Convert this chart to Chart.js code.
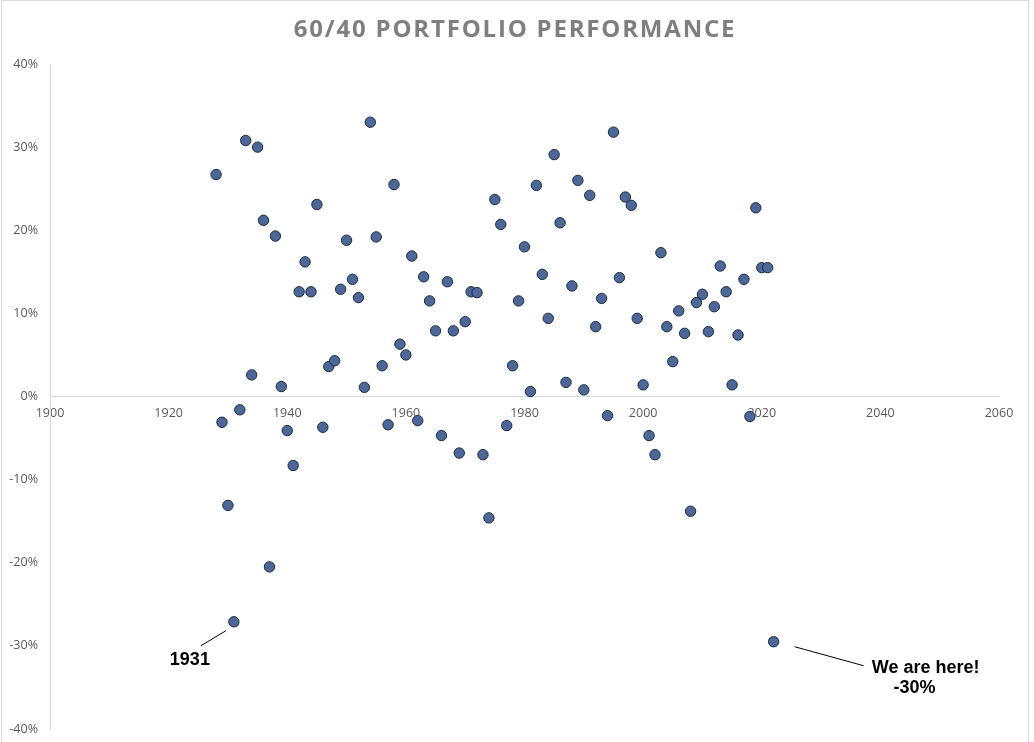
<!DOCTYPE html>
<html>
<head>
<meta charset="utf-8">
<title>60/40 Portfolio Performance</title>
<script src="https://cdn.jsdelivr.net/npm/chart.js@4.4.1/dist/chart.umd.min.js"></script>
<style>
  html, body { margin: 0; padding: 0; background: #fff; }
  #wrapper { width: 1034px; height: 742px; position: relative; }
</style>
</head>
<body>
<div id="wrapper"><canvas id="sc-portfolio"></canvas></div>
<script>
// yearly returns of a 60/40 portfolio, in percent
const years = [
  1928, 1929, 1930, 1931, 1932, 1933, 1934, 1935, 1936, 1937,
  1938, 1939, 1940, 1941, 1942, 1943, 1944, 1945, 1946, 1947,
  1948, 1949, 1950, 1951, 1952, 1953, 1954, 1955, 1956, 1957,
  1958, 1959, 1960, 1961, 1962, 1963, 1964, 1965, 1966, 1967,
  1968, 1969, 1970, 1971, 1972, 1973, 1974, 1975, 1976, 1977,
  1978, 1979, 1980, 1981, 1982, 1983, 1984, 1985, 1986, 1987,
  1988, 1989, 1990, 1991, 1992, 1993, 1994, 1995, 1996, 1997,
  1998, 1999, 2000, 2001, 2002, 2003, 2004, 2005, 2006, 2007,
  2008, 2009, 2010, 2011, 2012, 2013, 2014, 2015, 2016, 2017,
  2018, 2019, 2020, 2021, 2022
];
const returns = [
  26.7, -3.1, -13.1, -27.1, -1.6, 30.8, 2.6, 30.0, 21.2, -20.5,
  19.3, 1.2, -4.1, -8.3, 12.6, 16.2, 12.6, 23.1, -3.7, 3.6,
  4.3, 12.9, 18.8, 14.1, 11.9, 1.1, 33.0, 19.2, 3.7, -3.4,
  25.5, 6.3, 5.0, 16.9, -2.9, 14.4, 11.5, 7.9, -4.7, 13.8,
  7.9, -6.8, 9.0, 12.6, 12.5, -7.0, -14.6, 23.7, 20.7, -3.5,
  3.7, 11.5, 18.0, 0.6, 25.4, 14.7, 9.4, 29.1, 20.9, 1.7,
  13.3, 26.0, 0.8, 24.2, 8.4, 11.8, -2.3, 31.8, 14.3, 24.0,
  23.0, 9.4, 1.4, -4.7, -7.0, 17.3, 8.4, 4.2, 10.3, 7.6,
  -13.8, 11.3, 12.3, 7.8, 10.8, 15.7, 12.6, 1.4, 7.4, 14.1,
  -2.4, 22.7, 15.5, 15.5, -29.5
];

// axis ranges
const xMin = 1900, xMax = 2060, xStep = 20;
const yMin = -40, yMax = 40, yStep = 10;

// callouts: [year, text lines]
const callouts = [
  { year: 1931, lines: ["1931"] },
  { year: 2022, lines: ["We are here!", "-30%"] }
];

const titleText = "60/40 PORTFOLIO PERFORMANCE";

const points = years.map((y, i) => ({ x: y, y: returns[i] }));

const frameAndTitle = {
  id: "frameAndTitle",
  beforeDraw(chart) {
    const ctx = chart.ctx;
    ctx.save();
    ctx.strokeStyle = "#d9d9d9";
    ctx.lineWidth = 1;
    ctx.strokeRect(1.5, 0.5, 1027, 760);
    ctx.restore();
  },
  afterDraw(chart) {
    const ctx = chart.ctx;
    ctx.save();
    ctx.font = "bold 24px 'Open Sans'";
    ctx.fillStyle = "#7f7f7f";
    ctx.textAlign = "center";
    ctx.textBaseline = "alphabetic";
    if ("letterSpacing" in ctx) ctx.letterSpacing = "1.8px";
    ctx.fillText(titleText, 515, 37);
    ctx.restore();
  }
};

const calloutPlugin = {
  id: "callouts",
  afterDatasetsDraw(chart) {
    const ctx = chart.ctx;
    const xs = chart.scales.x, ys = chart.scales.y;
    ctx.save();
    ctx.fillStyle = "#000";
    ctx.strokeStyle = "#000";
    ctx.lineWidth = 1;
    ctx.font = "bold 18px 'Liberation Sans', Arial";
    ctx.textBaseline = "middle";
    ctx.textAlign = "center";
    callouts.forEach((c) => {
      const idx = years.indexOf(c.year);
      const px = xs.getPixelForValue(years[idx]);
      const py = ys.getPixelForValue(returns[idx]);
      ctx.beginPath();
      if (c.lines.length === 1) {
        // label sits down-left of the point
        ctx.moveTo(px - 33, py + 24);
        ctx.lineTo(px - 8, py + 9);
        ctx.stroke();
        ctx.fillText(c.lines[0], px - 44, py + 38);
      } else {
        // label sits down-right of the point
        ctx.moveTo(px + 21, py + 5);
        ctx.lineTo(px + 90, py + 24);
        ctx.stroke();
        ctx.fillText(c.lines[0], px + 152, py + 26);
        ctx.fillText(c.lines[1], px + 141, py + 46);
      }
    });
    ctx.restore();
  }
};

const ctx = document.getElementById("sc-portfolio").getContext("2d");

new Chart(ctx, {
  type: "scatter",
  data: {
    datasets: [
      {
        label: "60/40",
        data: points,
        backgroundColor: "#4d6896",
        borderColor: "#1a2844",
        borderWidth: 1,
        pointRadius: 5.2,
        pointHoverRadius: 5.2,
      },
    ],
  },
  options: {
    responsive: true,
    maintainAspectRatio: false,
    animation: false,
    layout: {
      padding: { top: 64, left: 0, right: 35, bottom: 13 },
    },
    scales: {
      x: {
        type: "linear",
        min: xMin,
        max: xMax,
        position: { y: 0 },
        grid: { display: false, drawTicks: false },
        border: { display: true, color: "#d9d9d9", width: 1 },
        afterFit: (scale) => {
          scale.paddingTop = 0;
          scale.paddingBottom = 0;
        },
        ticks: {
          stepSize: xStep,
          padding: 9,
          color: "#595959",
          font: { family: "'Open Sans'", size: 12.5 },
          callback: (v) => String(v),
        },
      },
      y: {
        min: yMin,
        max: yMax,
        grid: { display: false, drawTicks: false },
        border: { display: true, color: "#d9d9d9", width: 1 },
        afterFit: (scale) => {
          scale.width = 50;
          scale.paddingBottom = 0;
        },
        ticks: {
          stepSize: yStep,
          padding: 12,
          color: "#595959",
          font: { family: "'Open Sans'", size: 12.5 },
          callback: (v) => v + "%",
        },
      },
    },
    plugins: {
      legend: { display: false },
      title: { display: false },
      tooltip: { enabled: false },
    },
  },
  plugins: [frameAndTitle, calloutPlugin],
});
</script>
</body>
</html>
